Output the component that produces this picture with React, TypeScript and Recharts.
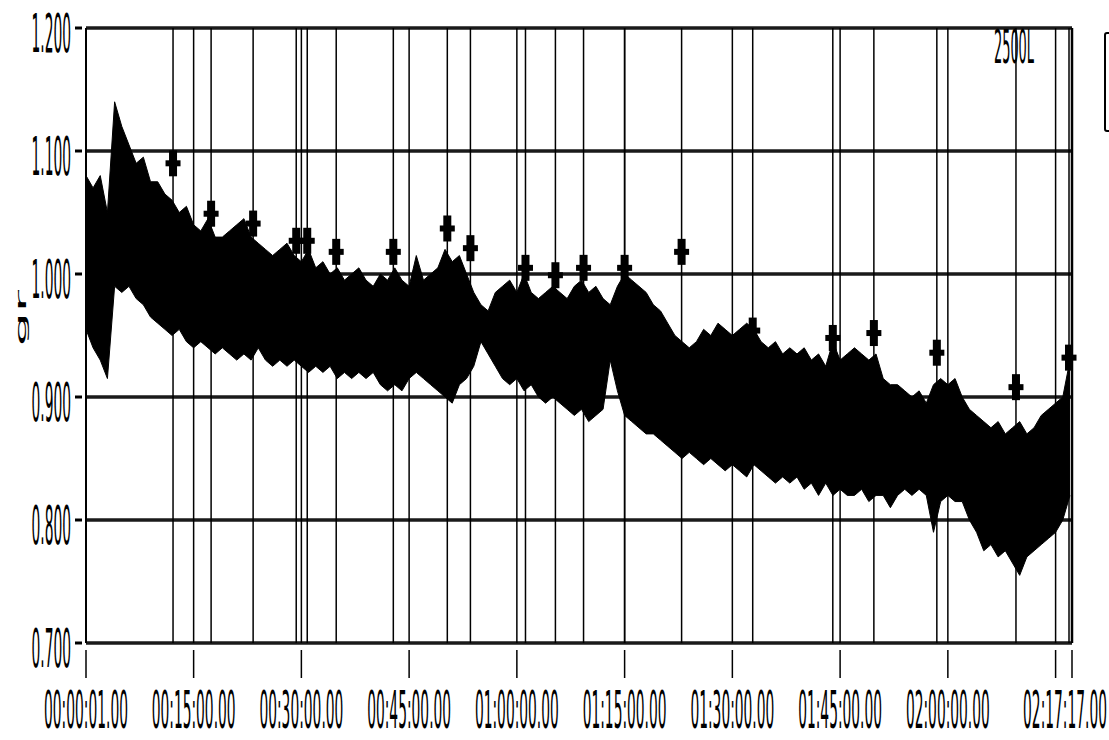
import React from 'react';
import {
  ComposedChart,
  Area,
  Scatter,
  XAxis,
  YAxis,
  CartesianGrid,
  ReferenceLine,
} from 'recharts';

// time axis (seconds from start)
const xTicks = [1, 900, 1800, 2700, 3600, 4500, 5400, 6300, 7200, 8100, 8237];
const xTickLabels = [
  '00:00:01.00', '00:15:00.00', '00:30:00.00', '00:45:00.00', '01:00:00.00',
  '01:15:00.00', '01:30:00.00', '01:45:00.00', '02:00:00.00', '', '02:17:17.00',
];
const yTicks = [0.7, 0.8, 0.9, 1.0, 1.1, 1.2];

// noise envelope, one reading per minute
const bandHigh = [
  1.08, 1.07, 1.08, 1.05, 1.14, 1.12, 1.105, 1.09, 1.095, 1.075,
  1.075, 1.065, 1.06, 1.05, 1.055, 1.04, 1.035, 1.045, 1.03, 1.03,
  1.035, 1.04, 1.045, 1.03, 1.025, 1.02, 1.015, 1.02, 1.025, 1.015,
  1.01, 1.02, 1.005, 1.01, 1.0, 1.005, 0.995, 1.0, 1.005, 0.995,
  0.99, 1.0, 0.995, 1.005, 0.995, 0.99, 1.015, 0.995, 1.0, 1.005,
  1.02, 1.01, 1.015, 1.0, 0.985, 0.975, 0.97, 0.985, 0.99, 0.995,
  0.985, 1.0, 0.985, 0.98, 0.985, 0.99, 0.985, 0.98, 0.99, 0.995,
  0.985, 0.99, 0.98, 0.975, 0.99, 1.0, 0.995, 0.99, 0.985, 0.975,
  0.97, 0.96, 0.95, 0.945, 0.94, 0.945, 0.955, 0.95, 0.96, 0.955,
  0.95, 0.955, 0.96, 0.955, 0.945, 0.94, 0.945, 0.935, 0.94, 0.935,
  0.94, 0.93, 0.935, 0.925, 0.945, 0.93, 0.935, 0.94, 0.935, 0.93,
  0.935, 0.915, 0.91, 0.91, 0.905, 0.9, 0.905, 0.895, 0.91, 0.915,
  0.91, 0.915, 0.9, 0.89, 0.885, 0.88, 0.875, 0.88, 0.87, 0.875,
  0.88, 0.87, 0.875, 0.885, 0.89, 0.895, 0.9, 0.93,
];
const bandLow = [
  0.955, 0.94, 0.93, 0.915, 0.99, 0.985, 0.99, 0.98, 0.975, 0.965,
  0.96, 0.955, 0.95, 0.955, 0.945, 0.94, 0.945, 0.94, 0.935, 0.94,
  0.935, 0.93, 0.935, 0.93, 0.94, 0.93, 0.925, 0.93, 0.925, 0.93,
  0.925, 0.92, 0.925, 0.92, 0.925, 0.915, 0.92, 0.915, 0.92, 0.915,
  0.92, 0.91, 0.905, 0.91, 0.905, 0.915, 0.92, 0.915, 0.91, 0.905,
  0.9, 0.895, 0.91, 0.915, 0.925, 0.945, 0.935, 0.925, 0.915, 0.91,
  0.915, 0.905, 0.91, 0.9, 0.895, 0.9, 0.895, 0.89, 0.885, 0.89,
  0.88, 0.885, 0.89, 0.93, 0.905, 0.885, 0.88, 0.875, 0.87, 0.87,
  0.865, 0.86, 0.855, 0.85, 0.855, 0.85, 0.845, 0.85, 0.845, 0.84,
  0.845, 0.84, 0.835, 0.845, 0.84, 0.835, 0.83, 0.835, 0.83, 0.835,
  0.825, 0.83, 0.82, 0.83, 0.82, 0.825, 0.82, 0.82, 0.825, 0.815,
  0.82, 0.82, 0.81, 0.82, 0.825, 0.82, 0.825, 0.82, 0.79, 0.815,
  0.82, 0.815, 0.815, 0.8, 0.79, 0.775, 0.78, 0.77, 0.775, 0.765,
  0.755, 0.77, 0.775, 0.78, 0.785, 0.79, 0.8, 0.82,
];

// event markers
const eventTimes = [728, 1046, 1397, 1757, 1849, 2091, 2568, 3019, 3212, 3672, 3922, 4157, 4500, 4976, 5570, 6239, 6582, 7108, 7769, 8212];
const eventValues = [1.09, 1.049, 1.041, 1.027, 1.027, 1.018, 1.018, 1.037, 1.021, 1.005, 0.999, 1.005, 1.005, 1.018, 0.954, 0.948, 0.952, 0.936, 0.908, 0.932];

const FONT = 'DejaVu Sans';

const chartData = bandHigh.map((h, i) => ({ t: i === 0 ? 1 : i * 60, range: [bandLow[i], h] }));
const markerData = eventTimes.map((t, i) => ({ t, v: eventValues[i] }));

const XTick = (props: any) => {
  const { x, y, payload } = props;
  const idx = xTicks.indexOf(payload.value);
  const label = idx >= 0 ? xTickLabels[idx] : '';
  const last = idx === xTicks.length - 1;
  return (
    <g>
      <line x1={x} x2={x} y1={y + 7} y2={y + 35} stroke="#000" strokeWidth={1.5} />
      {label && (
        <text
          transform={`translate(${last ? 1107 : x},${y + 85}) scale(1,3.7)`}
          textAnchor={last ? 'end' : 'middle'}
          fontSize={13.8}
          fontFamily={FONT}
          fill="#000"
        >
          {label}
        </text>
      )}
    </g>
  );
};

const YTick = (props: any) => {
  const { x, y, payload } = props;
  return (
    <g>
      <line x1={x - 11} x2={x - 4} y1={y} y2={y} stroke="#000" strokeWidth={3} />
      <text transform={`translate(${x - 15},${y + 24}) scale(1,3.9)`} textAnchor="end" fontSize={13.8} fontFamily={FONT} fill="#000">
        {payload.value.toFixed(3)}
      </text>
    </g>
  );
};

const PlusMarker = (props: any) => {
  const { cx, cy } = props;
  return (
    <g fill="#000">
      <rect x={cx - 7.5} y={cy - 3} width={15} height={6} />
      <rect x={cx - 4} y={cy - 13} width={8} height={26} />
    </g>
  );
};

const EventLabel = (props: any) => {
  const { viewBox } = props;
  return (
    <text transform={`translate(${viewBox.x - 2},${viewBox.y + 35}) scale(1,3.6)`} textAnchor="middle" fontSize={12.9} fontFamily={FONT} fill="#000">
      2500L
    </text>
  );
};

export default function App() {
  return (
    <div style={{ position: 'absolute', left: 0, top: 0, width: 1109, height: 740, background: '#fff', overflow: 'hidden' }}>
      <ComposedChart width={1109} height={740} data={chartData} margin={{ top: 28, right: 37, bottom: 0, left: 0 }}>
        <CartesianGrid horizontal vertical={false} stroke="#1a1a1a" strokeWidth={3.5} />
        <XAxis
          dataKey="t"
          type="number"
          domain={[1, 8237]}
          ticks={xTicks}
          tick={<XTick />}
          tickLine={false}
          tickSize={0}
          tickMargin={0}
          axisLine={false}
          height={97}
          interval={0}
        />
        <YAxis
          type="number"
          domain={[0.7, 1.2]}
          ticks={yTicks}
          tick={<YTick />}
          tickLine={false}
          tickSize={0}
          tickMargin={0}
          axisLine={{ stroke: '#000', strokeWidth: 2 }}
          width={86}
          interval={0}
          label={{
            content: () => (
              <text transform="translate(26,318) rotate(-90) scale(3.9,1)" textAnchor="middle" fontSize={13.8} fontFamily={FONT} fill="#000">
                gr
              </text>
            ),
          }}
        />
        <Area
          dataKey="range"
          type="linear"
          stroke="#000"
          strokeWidth={1}
          fill="#000"
          fillOpacity={1}
          dot={false}
          activeDot={false}
          isAnimationActive={false}
        />
        {xTicks.slice(1, -1).map((t) => (
          <ReferenceLine key={`g${t}`} x={t} stroke="#000" strokeWidth={1.5} />
        ))}
        {eventTimes.map((t) => (
          <ReferenceLine
            key={`e${t}`}
            x={t}
            stroke="#000"
            strokeWidth={1.5}
            label={t === 7769 ? <EventLabel /> : undefined}
          />
        ))}
        <ReferenceLine x={8237} stroke="#000" strokeWidth={2.5} />
        <Scatter data={markerData} dataKey="v" shape={<PlusMarker />} isAnimationActive={false} />
      </ComposedChart>
      <div
        style={{
          position: 'absolute',
          left: 1104,
          top: 32,
          width: 30,
          height: 100,
          border: '2px solid #000',
          borderRadius: 3,
          boxSizing: 'border-box',
        }}
      />
    </div>
  );
}
